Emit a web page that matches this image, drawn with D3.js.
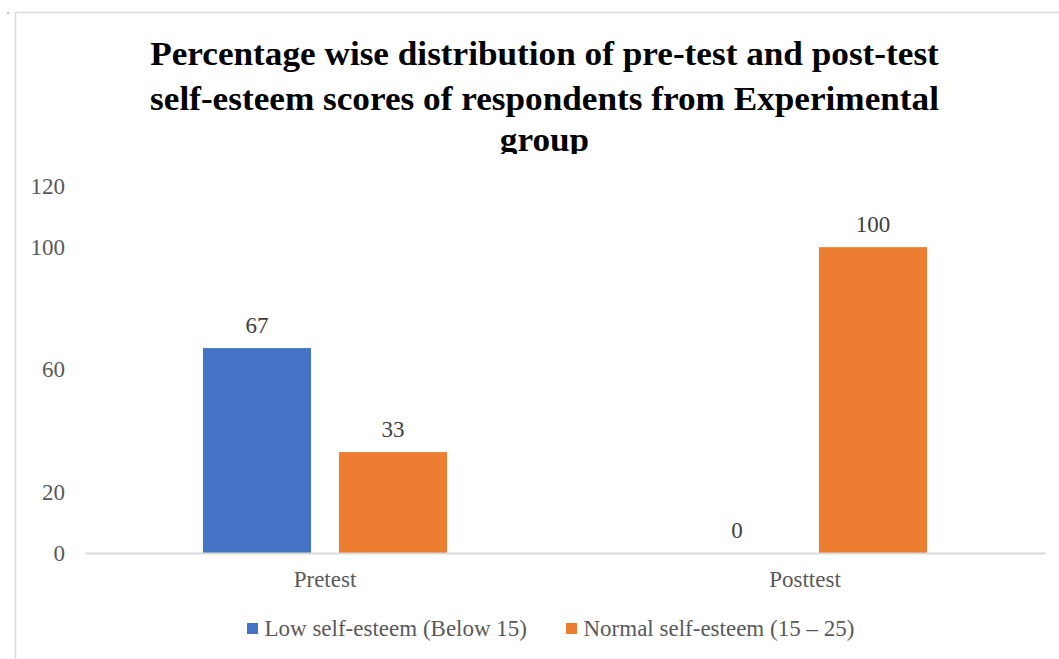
<!DOCTYPE html>
<html>
<head>
<meta charset="utf-8">
<script src="https://cdn.jsdelivr.net/npm/d3@7"></script>
<style>
  html, body { margin: 0; padding: 0; background: #ffffff; }
  svg { display: block; }
  text { font-family: "Liberation Serif", "Times New Roman", serif; }
</style>
</head>
<body>
<svg id="chart" width="1059" height="659"></svg>
<script>
// Chart data
const categories = ["Pretest", "Posttest"];
const seriesNames = ["Low self-esteem (Below 15)", "Normal self-esteem (15 – 25)"];
const lowValues = [67, 0];
const normalValues = [33, 100];
const yTicks = [0, 20, 60, 100, 120];
const titleLines = [
  "Percentage wise distribution of pre-test and post-test",
  "self-esteem scores of respondents from Experimental",
  "group"
];
const colors = ["#4472C4", "#ED7D31"];

const rows = categories.map((c, i) => ({
  category: c,
  values: [
    { series: seriesNames[0], value: lowValues[i] },
    { series: seriesNames[1], value: normalValues[i] }
  ]
}));

const FONT = "Liberation Serif, Times New Roman, serif";
const LABEL_SIZE = 23;

const svg = d3.select("#chart");

// Outer frame (top and left edges)
svg.append("line").attr("x1", 15).attr("x2", 1059).attr("y1", 12.5).attr("y2", 12.5)
  .attr("stroke", "#d9d9d9").attr("stroke-width", 1.5);
svg.append("line").attr("x1", 15.5).attr("x2", 15.5).attr("y1", 12).attr("y2", 659)
  .attr("stroke", "#d9d9d9").attr("stroke-width", 1.5);
svg.append("rect").attr("x", 7).attr("y", 12).attr("width", 2).attr("height", 2).attr("fill", "#bfbfbf");

// Title (last line is cut off at the top of the plot area)
svg.append("clipPath").attr("id", "titleClip")
  .append("rect").attr("x", 0).attr("y", 0).attr("width", 1059).attr("height", 154);
const titleG = svg.append("g").attr("clip-path", "url(#titleClip)");
const titleInner = titleG.append("g");
const titleBaselines = [65, 110, 151];
titleInner.selectAll("text").data(titleLines).join("text")
  .attr("x", 0)
  .attr("y", (d, i) => titleBaselines[i])
  .attr("text-anchor", "middle")
  .attr("font-family", FONT)
  .attr("font-size", 33)
  .attr("font-weight", "bold")
  .attr("fill", "#000000")
  .text(d => d);
const firstLineWidth = titleInner.select("text").node().getComputedTextLength();
const sx = 789 / firstLineWidth;
titleInner.attr("transform", `translate(544.5,0) scale(${sx},1)`);

// Scales
const x0 = d3.scaleBand().domain(categories).range([85, 1045]).padding(0);
const x1 = d3.scaleBand().domain(seriesNames).range([118, 362]).paddingInner(28 / 136).paddingOuter(0);
const y = d3.scaleLinear().domain([0, 120]).range([553, 186]);

// Y axis labels (no axis line)
const yAxis = d3.axisLeft(y).tickValues(yTicks).tickSize(0).tickPadding(0).tickFormat(d3.format("d"));
const yG = svg.append("g").attr("transform", "translate(65,0)").call(yAxis);
yG.select(".domain").remove();
yG.attr("font-family", FONT);
yG.selectAll("text")
  .attr("font-family", FONT)
  .attr("font-size", LABEL_SIZE)
  .attr("fill", "#595959");

// Bars
const groups = svg.append("g").selectAll("g").data(rows).join("g")
  .attr("transform", d => `translate(${x0(d.category)},0)`);

groups.selectAll("rect").data(d => d.values).join("rect")
  .attr("x", d => x1(d.series))
  .attr("width", x1.bandwidth())
  .attr("y", d => y(d.value))
  .attr("height", d => y(0) - y(d.value))
  .attr("fill", (d, i) => colors[i]);

// Value labels
groups.selectAll("text.val").data(d => d.values).join("text")
  .attr("class", "val")
  .attr("x", d => x1(d.series) + x1.bandwidth() / 2)
  .attr("y", d => y(d.value) - 15)
  .attr("text-anchor", "middle")
  .attr("font-family", FONT)
  .attr("font-size", LABEL_SIZE)
  .attr("fill", "#404040")
  .text(d => d.value);

// X axis baseline and category labels
const xAxis = d3.axisBottom(x0).tickSize(0).tickPadding(0);
const xG = svg.append("g").attr("transform", `translate(0,${y(0)})`).call(xAxis);
xG.attr("font-family", FONT);
xG.select(".domain").attr("stroke", "#d9d9d9").attr("stroke-width", 2);
xG.selectAll("text")
  .attr("font-family", FONT)
  .attr("font-size", LABEL_SIZE)
  .attr("fill", "#595959")
  .attr("dy", null)
  .attr("y", 34);

// Legend
const legendX = [247, 566];
const legend = svg.append("g").selectAll("g").data(seriesNames).join("g")
  .attr("transform", (d, i) => `translate(${legendX[i]},629)`);
legend.append("rect").attr("x", 0).attr("y", -6).attr("width", 11).attr("height", 11)
  .attr("fill", (d, i) => colors[i]);
legend.append("text").attr("x", 17.5).attr("y", 7)
  .attr("font-family", FONT)
  .attr("font-size", LABEL_SIZE)
  .attr("fill", "#595959")
  .text(d => d);
</script>
</body>
</html>
